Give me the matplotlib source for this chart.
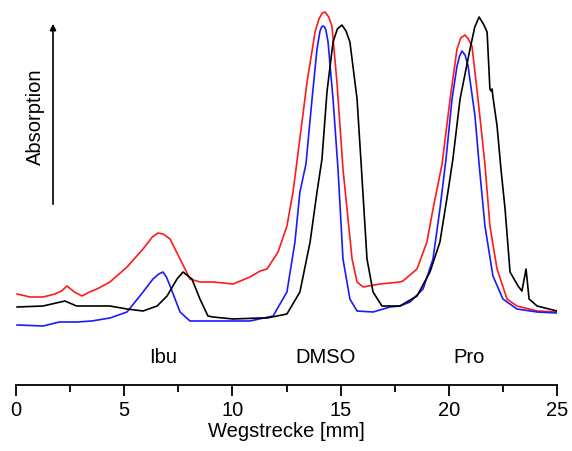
import numpy as np
import matplotlib
matplotlib.use("Agg")
from matplotlib import pyplot as plt

plt.rcParams['font.family'] = ['Liberation Sans', 'DejaVu Sans']

# Wegstrecke [mm] / Absorption [a.u.]
red_x = [0.05, 0.65, 1.25, 1.8, 2.1, 2.36, 2.7, 3.05, 3.4, 3.74, 4.34, 5.13, 5.87, 6.3, 6.56,
         6.8, 7.12, 7.58, 8.04, 8.50, 9.10, 10.03, 10.81, 11.28, 11.60, 12.11, 12.52, 12.80,
         12.94, 13.45, 13.82, 14.0, 14.15, 14.28, 14.45, 14.60, 14.83, 15.11, 15.53, 15.76,
         16.04, 16.82, 17.74, 17.88, 18.53, 18.99, 19.27, 19.69, 20.06, 20.38, 20.55, 20.75,
         20.9, 21.07, 21.35, 21.67, 21.90, 22.23, 22.69, 23.15, 24.08, 25.0]
red_y = [35, 32, 32, 35, 38, 43, 37, 33, 37, 40, 47, 62, 80, 92, 96,
         95, 90, 70, 50, 47, 47, 45, 52, 58, 60, 77, 103, 137,
         160, 247, 297, 310, 316, 317, 312, 303, 247, 160, 70, 47,
         42, 45, 47, 48, 60, 87, 120, 165, 230, 280, 291, 294,
         290, 283, 230, 165, 103, 60, 30, 23, 18, 17]

blue_x = [0.05, 1.25, 2.0, 2.82, 3.5, 4.34, 5.13, 5.87, 6.33, 6.6, 6.79, 6.95, 7.12, 7.58,
          8.04, 8.96, 10.81, 11.88, 12.52, 12.89, 13.12, 13.40, 13.68, 13.91, 14.05, 14.12,
          14.19, 14.26, 14.32, 14.42, 14.65, 14.88, 15.11, 15.43, 15.76, 16.50, 17.28, 17.74,
          18.21, 18.81, 19.27, 19.59, 19.87, 20.15, 20.38, 20.5, 20.61, 20.75, 20.89, 21.21,
          21.40, 21.67, 22.04, 22.50, 23.15, 24.08, 25.0]
blue_y = [4, 3, 7, 7, 8, 11, 17, 37, 50, 55, 57, 52, 43, 17,
          8, 8, 8, 13, 37, 87, 137, 165, 230, 280, 298, 302,
          303, 302, 299, 287, 230, 160, 70, 30, 18, 17, 22, 23,
          27, 40, 70, 120, 170, 230, 263, 273, 278, 274, 263, 213,
          165, 103, 53, 30, 20, 17, 16]

black_x = [0.05, 1.25, 2.26, 2.8, 3.28, 4.34, 5.13, 5.87, 6.52, 6.98, 7.44, 7.72, 8.13,
           8.50, 8.87, 9.10, 10.03, 11.28, 11.60, 12.52, 13.12, 13.59, 13.91, 14.14, 14.37,
           14.65, 14.85, 15.06, 15.25, 15.43, 15.76, 15.95, 16.22, 16.50, 16.91, 17.74, 18.53,
           19.13, 19.59, 19.96, 20.19, 20.52, 20.98, 21.2, 21.40, 21.6, 21.77, 21.90, 21.95,
           22.0, 22.04, 22.23, 22.41, 22.60, 22.83, 23.20, 23.38, 23.57, 23.71, 24.08, 25.0]
black_y = [22, 23, 28, 23, 23, 23, 20, 18, 23, 33, 50, 57, 50,
           30, 13, 12, 10, 11, 11, 15, 37, 87, 137, 170, 237,
           287, 300, 304, 298, 287, 230, 165, 70, 37, 23, 23, 33,
           57, 87, 137, 170, 230, 280, 302, 312, 305, 297, 240, 238,
           240, 232, 203, 160, 120, 57, 43, 38, 60, 30, 23, 18]

fig = plt.figure(figsize=(5.72, 4.52), dpi=100)
ax = fig.add_axes([16 / 572, 1 - 386 / 452, 541 / 572, 380 / 452])

ax.plot(red_x, red_y, color='#ff1a1a', lw=1.2)
ax.plot(blue_x, blue_y, color='#1a1aff', lw=1.2)
ax.plot(black_x, black_y, color='black', lw=1.2)

ax.set_xlim(0, 25)
ax.set_ylim(-56, 324)
for s in ['left', 'right', 'top']:
    ax.spines[s].set_visible(False)
ax.spines['bottom'].set_linewidth(1.3)
ax.set_yticks([])
ax.set_xticks(np.arange(0, 26, 5))
ax.set_xticks(np.arange(0, 26, 2.5), minor=True)
ax.tick_params(axis='x', which='major', direction='out', length=8, width=1.3,
               labelsize=14.5, pad=3)
ax.tick_params(axis='x', which='minor', direction='out', length=5, width=1.3)
ax.set_xlabel('Wegstrecke [mm]', fontsize=14.5, labelpad=1)

for name, xpos in [('Ibu', 6.8), ('DMSO', 14.3), ('Pro', 20.95)]:
    ax.text(xpos, -28, name, ha='center', va='center', fontsize=14.5)

fig.text(35 / 572, 1 - 117 / 452, 'Absorption', rotation=90, ha='center', va='center',
         fontsize=14.5)
fig.add_artist(matplotlib.patches.FancyArrowPatch(
    (53 / 572, 1 - 208 / 452), (53 / 572, 1 - 22 / 452), transform=fig.transFigure,
    arrowstyle='-|>', mutation_scale=9, lw=1.2, color='black'))

fig.savefig('out.png', dpi=100)
